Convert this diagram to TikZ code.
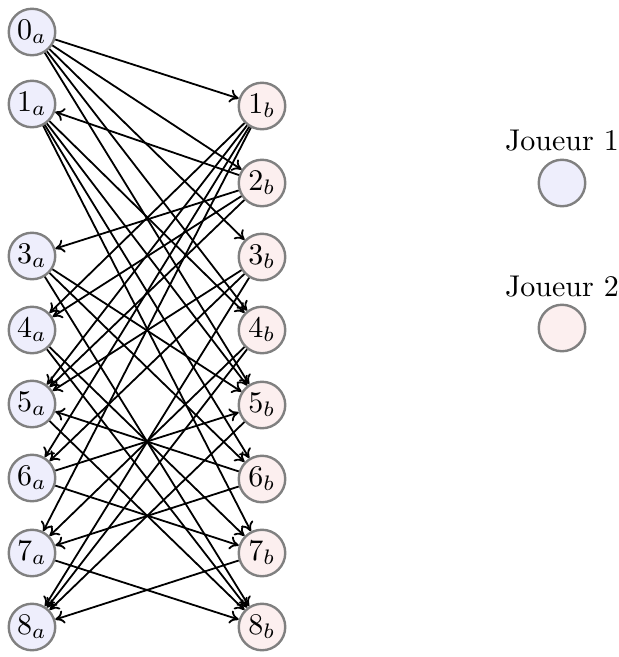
\documentclass[tikz,border=0pt]{standalone}
\usetikzlibrary{arrows.meta}
\definecolor{pone}{RGB}{238,238,252}
\definecolor{ptwo}{RGB}{252,239,239}
\definecolor{rim}{RGB}{128,128,128}
\tikzset{
  gstate/.style={circle,draw=rim,line width=0.8pt,minimum size=15.5pt,inner sep=0pt},
  gstatea/.style={gstate,fill=pone},
  gstateb/.style={gstate,fill=ptwo},
  move/.style={-{To[length=3pt,width=4.5pt]},line width=0.6pt,black}
}
\begin{document}
\begin{tikzpicture}[x=0.33333pt,y=-0.33333pt]
\useasboundingbox (0,0) rectangle (619,657);
% positions of player 1
\node[gstatea] (a0) at (32,32)  {$0_a$};
\node[gstatea] (a1) at (32,104) {$1_a$};
\node[gstatea] (a3) at (32,256) {$3_a$};
\node[gstatea] (a4) at (32,330) {$4_a$};
\node[gstatea] (a5) at (32,404) {$5_a$};
\node[gstatea] (a6) at (32,478) {$6_a$};
\node[gstatea] (a7) at (32,553) {$7_a$};
\node[gstatea] (a8) at (32,627) {$8_a$};
% positions of player 2
\node[gstateb] (b1) at (262,106) {$1_b$};
\node[gstateb] (b2) at (262,183) {$2_b$};
\node[gstateb] (b3) at (262,257) {$3_b$};
\node[gstateb] (b4) at (262,330) {$4_b$};
\node[gstateb] (b5) at (262,405) {$5_b$};
\node[gstateb] (b6) at (262,479) {$6_b$};
\node[gstateb] (b7) at (262,553) {$7_b$};
\node[gstateb] (b8) at (262,627) {$8_b$};
% legend
\node (l1) at (562,141) {Joueur 1};
\node[gstatea] (k1) at (562,183) {};
\node (l2) at (562,287) {Joueur 2};
\node[gstateb] (k2) at (562,328) {};
% moves of player 1
\foreach \s/\t in {a0/b1,a0/b2,a0/b3,a0/b4,a0/b5,
                   a1/b4,a1/b5,a1/b6,a1/b7,
                   a3/b5,a3/b6,a3/b8,
                   a4/b7,a4/b8,
                   a5/b8,
                   a6/b5,a6/b7,
                   a7/b8}
  \draw[move] (\s) -- (\t);
% moves of player 2
\foreach \s/\t in {b1/a4,b1/a5,b1/a6,b1/a7,
                   b2/a1,b2/a3,b2/a4,b2/a5,
                   b3/a5,b3/a6,b3/a8,
                   b4/a7,b4/a8,
                   b5/a8,
                   b6/a5,b6/a7,
                   b7/a8}
  \draw[move] (\s) -- (\t);
\end{tikzpicture}
\end{document}
